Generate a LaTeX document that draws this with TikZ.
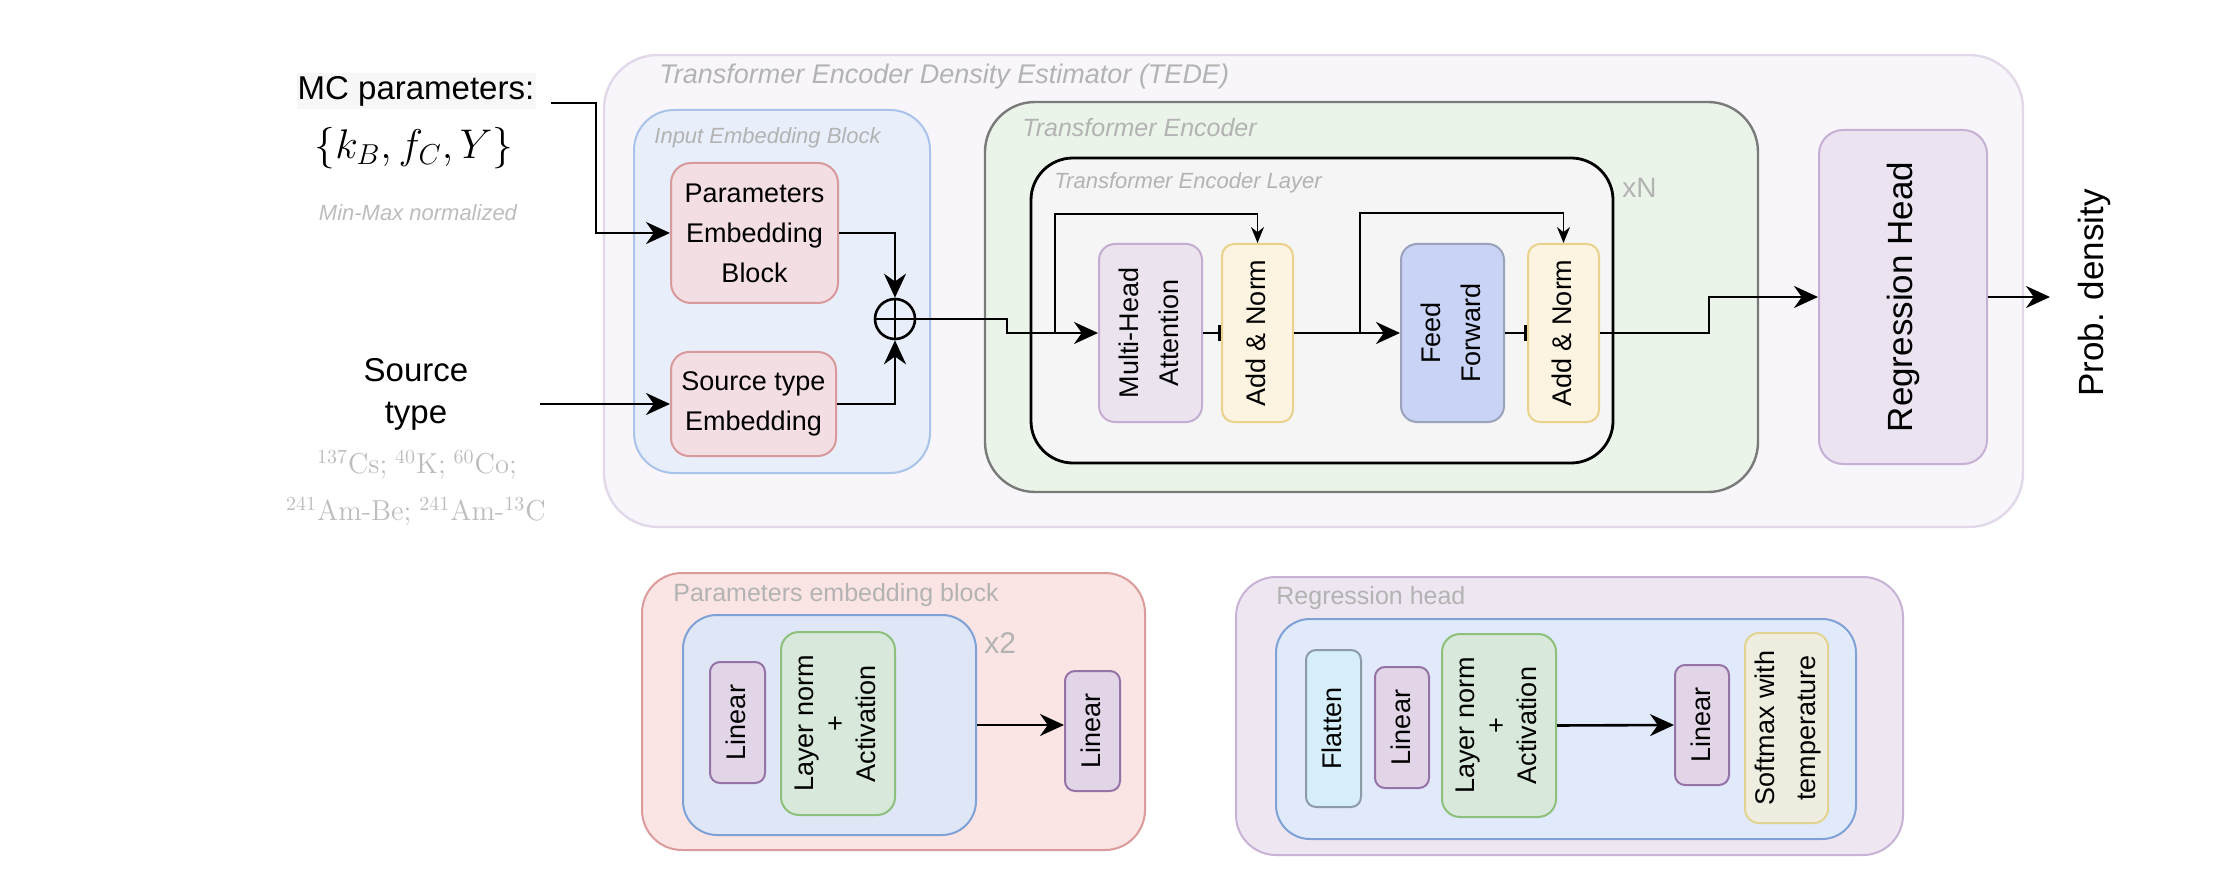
\documentclass[tikz,border=0pt]{standalone}
\usepackage[no-math]{fontspec}
\setmainfont{Liberation Sans}
\usepackage{graphicx}
\usetikzlibrary{arrows.meta,calc}

\definecolor{tedeF}{HTML}{F8F6FA}
\definecolor{tedeD}{HTML}{E3D8EA}
\definecolor{ieF}{HTML}{E8EEFA}
\definecolor{ieD}{HTML}{A9C3E9}
\definecolor{pkF}{HTML}{F2DEE3}
\definecolor{pkD}{HTML}{D99A9C}
\definecolor{teF}{HTML}{EAF4E9}
\definecolor{teD}{HTML}{7A7A7A}
\definecolor{tlF}{HTML}{F5F5F5}
\definecolor{mhF}{HTML}{EBE4EE}
\definecolor{mhD}{HTML}{C4ACD2}
\definecolor{anF}{HTML}{FCF4E0}
\definecolor{anD}{HTML}{EAD18C}
\definecolor{ffF}{HTML}{C9D3F5}
\definecolor{ffD}{HTML}{9AA3BA}
\definecolor{rhF}{HTML}{EBE3F0}
\definecolor{rhD}{HTML}{C6B0D5}
\definecolor{peoF}{HTML}{FAE4E4}
\definecolor{peoD}{HTML}{DB9B9B}
\definecolor{blF}{HTML}{DFE6F6}
\definecolor{blD}{HTML}{7FA2D6}
\definecolor{linF}{HTML}{E1D5E7}
\definecolor{linD}{HTML}{9673A6}
\definecolor{lnF}{HTML}{D8E8DA}
\definecolor{lnD}{HTML}{8DC07C}
\definecolor{rhoF}{HTML}{EEE7F1}
\definecolor{rhoD}{HTML}{C8B2D6}
\definecolor{bltF}{HTML}{E0EAFA}
\definecolor{flF}{HTML}{D5EEF9}
\definecolor{flD}{HTML}{8D9BA6}
\definecolor{smF}{HTML}{EFEDE0}
\definecolor{smD}{HTML}{E2D391}
\definecolor{lblC}{HTML}{B3B3B3}
\definecolor{isoC}{HTML}{BDBDBD}

\newcommand\bodyfont{\fontsize{13.5pt}{20pt}\selectfont}
\newcommand\vtxt[1]{\rotatebox{90}{\begin{tabular}{@{}c@{}}#1\end{tabular}}}
\newcommand\hy{\mathchar"002D\relax}

\begin{document}
\begin{tikzpicture}[x=0.5pt,y=-0.5pt,
  box/.style={draw, line width=1pt, inner sep=0pt, align=center, font=\bodyfont},
  sz/.style 2 args={minimum width=#1pt, minimum height=#2pt},
  ttl/.style={anchor=west, text=lblC, inner sep=0pt},
  arr/.style={line width=1.3pt, -{Stealth[length=12pt,width=11pt]}},
  tarr/.style={line width=0.7pt, -{Stealth[length=8pt,width=6.5pt]}},
  barl/.style={line width=1.3pt, -{Bar[width=8pt]}}]

\path[use as bounding box, fill=white] (0,0) rectangle (2218,893);

% ---------- inputs ----------
\node[fill=black!3, minimum width=119.5pt, minimum height=18pt, inner sep=0pt,
      font=\fontsize{16.5pt}{20pt}\selectfont] (mc) at (416,91) {MC parameters:};
\node[font=\fontsize{20pt}{24pt}\selectfont] (mcm) at (414,148) {$\{k_B, f_C, Y\}$};
\node[text=isoC, font=\itshape\fontsize{11pt}{13pt}\selectfont] (mm) at (418,213) {Min-Max normalized};
\node[align=center, font=\fontsize{16.5pt}{21pt}\selectfont] (src) at (416,394) {Source\\type};
\node[text=isoC, font=\fontsize{14pt}{17pt}\selectfont] (iso1) at (417,465)
  {$^{137}\mathrm{Cs;}\ ^{40}\mathrm{K;}\ ^{60}\mathrm{Co;}$};
\node[text=isoC, font=\fontsize{14pt}{17pt}\selectfont] (iso2) at (416,512)
  {$^{241}\mathrm{Am\hy Be;}\ ^{241}\mathrm{Am\hy}{}^{13}\mathrm{C}$};

% ---------- TEDE ----------
\node[box, sz={709.5}{236}, fill=tedeF, draw=tedeD, rounded corners=27pt, line width=1.2pt] (tede) at (1313.5,291) {};
\node[ttl, font=\itshape\fontsize{13.5pt}{16pt}\selectfont] (tedet) at (659,77) {Transformer Encoder Density Estimator (TEDE)};

\node[box, sz={148}{181.5}, fill=ieF, draw=ieD, rounded corners=20pt] (ieb) at (782,291.5) {};
\node[ttl, font=\itshape\fontsize{11pt}{13pt}\selectfont] (iebt) at (654,138) {Input Embedding Block};
\node[box, sz={83.5}{70}, fill=pkF, draw=pkD, rounded corners=10pt] (peb) at (754.5,233) {Parameters\\Embedding\\Block};
\node[box, sz={82.5}{52}, fill=pkF, draw=pkD, rounded corners=9pt] (ste) at (753.5,404) {Source type\\Embedding};
\node[circle, draw, line width=1.3pt, minimum size=20pt, inner sep=0pt] (plus) at (895,319) {};
\draw[line width=1.3pt] (plus.north) -- (plus.south) (plus.west) -- (plus.east);

\node[box, sz={386.5}{195}, fill=teF, draw=teD, rounded corners=25pt, line width=1.2pt] (te) at (1371.5,297) {};
\node[ttl, font=\itshape\fontsize{12.5pt}{15pt}\selectfont] (tet) at (1022,128) {Transformer Encoder};
\node[box, sz={291}{152.5}, fill=tlF, draw=black, rounded corners=21pt, line width=1.4pt] (tel) at (1322,310.5) {};
\node[ttl, font=\itshape\fontsize{11pt}{13pt}\selectfont] (telt) at (1054,183) {Transformer Encoder Layer};
\node[ttl, font=\fontsize{14pt}{16pt}\selectfont] (xn) at (1622,188) {xN};

\node[box, sz={51.5}{89}, fill=mhF, draw=mhD, rounded corners=8pt] (mha) at (1150.5,333) {\vtxt{Multi-Head\\Attention}};
\node[box, sz={35.5}{89}, fill=anF, draw=anD, rounded corners=6pt] (an1) at (1257.5,333) {\vtxt{Add \& Norm}};
\node[box, sz={51.5}{89}, fill=ffF, draw=ffD, rounded corners=8pt] (ff) at (1452.5,333) {\vtxt{Feed\\Forward}};
\node[box, sz={35.5}{89}, fill=anF, draw=anD, rounded corners=6pt] (an2) at (1563.5,333) {\vtxt{Add \& Norm}};

\node[box, sz={84}{167}, fill=rhF, draw=rhD, rounded corners=12pt,
      font=\fontsize{17.5pt}{20pt}\selectfont] (rh) at (1903,297) {\rotatebox{90}{Regression Head}};
\node[rotate=90, font=\fontsize{17.5pt}{20pt}\selectfont] (prob) at (2094,293) {Prob. density};

% ---------- connectors (top) ----------
\coordinate (mcout) at (551,103);
\coordinate (srcout) at (540,404);
\coordinate (s1) at (1055,333);
\coordinate (s2) at (1360,333);
\coordinate (pout) at (2050,297);

\draw[arr] (mcout) -- (596,103) |- (peb.west);
\draw[arr] (srcout) -- (ste.west);
\draw[arr] (peb.east) -| (plus.north);
\draw[arr] (ste.east) -| (plus.south);
\draw[arr] (plus.east) -- (1007,319) |- (mha.west);
\draw[tarr] (s1) -- (1055,214) -| (an1.north);
\draw[barl] (mha.east) -- (an1.west);
\draw[arr] (an1.east) -- (ff.west);
\draw[tarr] (s2) -- (1360,213) -| (an2.north);
\draw[barl] (ff.east) -- (an2.west);
\draw[arr] (an2.east) -- (1709,333) |- (rh.west);
\draw[arr] (rh.east) -- (pout);

% ---------- Parameters embedding block (detail) ----------
\node[box, sz={251.5}{138.5}, fill=peoF, draw=peoD, rounded corners=20pt] (pbo) at (893.5,711.5) {};
\node[ttl, font=\fontsize{12.5pt}{15pt}\selectfont] (pbot) at (673,595) {Parameters embedding block};
\node[box, sz={146.5}{110}, fill=blF, draw=blD, rounded corners=17pt] (pbi) at (829.5,725) {};
\node[ttl, font=\fontsize{15pt}{17pt}\selectfont] (x2) at (984,643) {x2};
\node[box, sz={27.5}{60.5}, fill=linF, draw=linD, rounded corners=5pt] (lin1) at (737.5,722.5) {\vtxt{Linear}};
\node[box, sz={57}{91.5}, fill=lnF, draw=lnD, rounded corners=9pt,
      font=\fontsize{13.5pt}{15.5pt}\selectfont] (ln1) at (838,723.5) {\vtxt{Layer norm\\+\\Activation}};
\node[box, sz={27.5}{60}, fill=linF, draw=linD, rounded corners=5pt] (lin2) at (1092.5,731) {\vtxt{Linear}};
\draw[arr] (pbi.east) -- (lin2.west |- pbi.east);

% ---------- Regression head (detail) ----------
\node[box, sz={333.5}{139}, fill=rhoF, draw=rhoD, rounded corners=20pt] (rho) at (1569.5,716) {};
\node[ttl, font=\fontsize{12.5pt}{15pt}\selectfont] (rhot) at (1276,598) {Regression head};
\node[box, sz={290}{110}, fill=bltF, draw=blD, rounded corners=17pt] (rhi) at (1566,729) {};
\node[box, sz={27.5}{78.5}, fill=flF, draw=flD, rounded corners=5pt] (fl) at (1333.5,728.5) {\vtxt{Flatten}};
\node[box, sz={27}{60.5}, fill=linF, draw=linD, rounded corners=5pt] (lin3) at (1402,727.5) {\vtxt{Linear}};
\node[box, sz={57}{91.5}, fill=lnF, draw=lnD, rounded corners=9pt,
      font=\fontsize{13.5pt}{15.5pt}\selectfont] (ln2) at (1499,725.5) {\vtxt{Layer norm\\+\\Activation}};
\node[box, sz={27}{60}, fill=linF, draw=linD, rounded corners=5pt] (lin4) at (1702,725) {\vtxt{Linear}};
\node[box, sz={41.5}{95}, fill=smF, draw=smD, rounded corners=7pt,
      font=\fontsize{13.5pt}{20.5pt}\selectfont] (sm) at (1786.5,728) {\vtxt{Softmax with\\temperature}};
\draw[arr] (ln2.east) -- (lin4.west);

\end{tikzpicture}
\end{document}
